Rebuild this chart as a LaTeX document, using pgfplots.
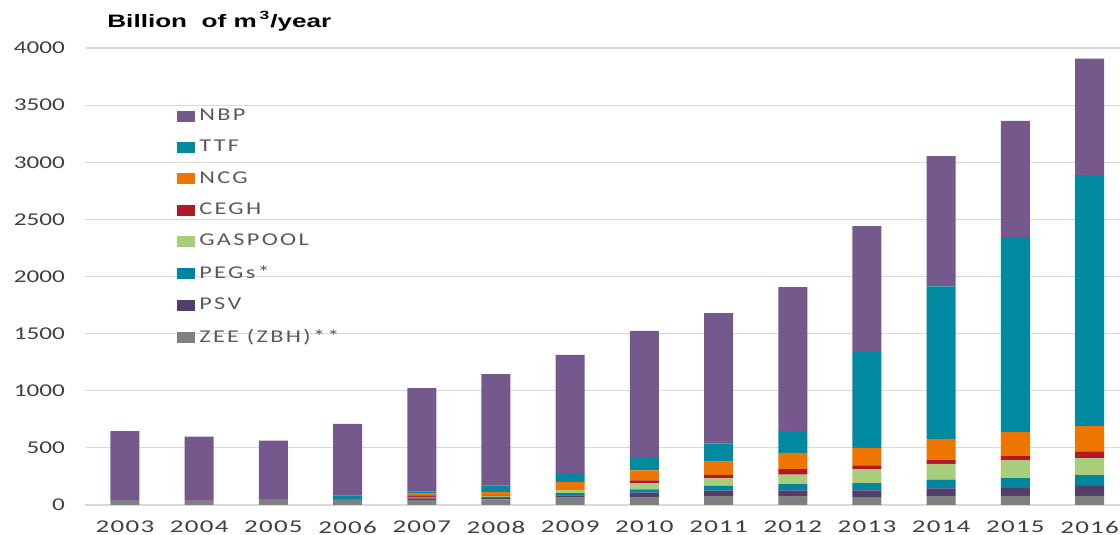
\documentclass[border=0pt]{standalone}
\usepackage{fontspec}
\setmainfont{Carlito}
\newfontfamily\arialf{Liberation Sans}[FakeStretch=1.45]
\newfontfamily\ytf{Carlito}[FakeStretch=1.4]
\newfontfamily\xtf{Carlito}[FakeStretch=1.5, LetterSpace=7]
\newfontfamily\legf{Carlito}[FakeStretch=1.35, LetterSpace=13]
\usepackage{pgfplots}
\usepackage{pgfplotstable}
\pgfplotsset{compat=1.18}
\definecolor{nbp}{RGB}{117,88,140}
\definecolor{ttf}{RGB}{0,137,160}
\definecolor{ncg}{RGB}{238,118,0}
\definecolor{cegh}{RGB}{176,26,40}
\definecolor{gaspool}{RGB}{168,206,124}
\definecolor{pegs}{RGB}{0,133,158}
\definecolor{psv}{RGB}{82,62,104}
\definecolor{zee}{RGB}{128,128,128}
\definecolor{txt}{RGB}{64,64,64}
\definecolor{legtxt}{RGB}{89,89,89}

\pgfplotstableread{
x  ZEE PSV PEG GAS CEGH NCG TTF  NBP
0  42  0   0   0   0    0   0    605
1  42  0   0   0   0    0   0    556
2  42  0   0   0   5    0   0    516
3  45  5   10  0   0    0   25   624
4  45  12  10  5   12   15  20   903
5  50  10  10  10  5    30  55   976
6  65  20  20  25  5    65  80   1033
7  65  44  27  55  25   88  109  1110
8  73  53  41  65  32   115 160  1141
9  74  53  56  82  50   141 191  1261
10 68  59  65  123 32   153 837  1104
11 74  71  76  138 38   182 1335 1140
12 79  68  88  156 41   206 1706 1019
13 79  88  94  150 59   220 2198 1020
}\gasdata

\begin{document}
\begin{tikzpicture}
\path[use as bounding box] (0,0) rectangle (560pt,267.5pt);
\begin{axis}[
    at={(42.5pt,15pt)}, anchor=south west,
    scale only axis,
    width=517.5pt, height=228.5pt,
    ybar stacked, bar width=14.5pt,
    xmin=-0.539, xmax=13.41,
    ymin=0, ymax=4000,
    ytick={0,500,...,4000},
    xtick={0,...,13},
    xticklabels={2003,2004,2005,2006,2007,2008,2009,2010,2011,2012,2013,2014,2015,2016},
    axis line style={draw=none},
    major tick length=0pt,
    ymajorgrids, grid style={draw=black!15, line width=0.6pt},
    /pgf/number format/assume math mode=true,
    /pgf/number format/1000 sep={},
    yticklabel style={font=\ytf\fontsize{9}{10}\selectfont, text=txt, xshift=-6.5pt},
    xticklabel style={font=\xtf\fontsize{9}{10}\selectfont, text=txt, yshift=-4.5pt},
    reverse legend,
    legend style={at={(0.083,0.885)}, anchor=north west, draw=none, fill=none,
        font=\legf\fontsize{9}{10}\selectfont\color{legtxt}, row sep=4.35pt,
        cells={anchor=west}},
    legend image code/.code={\fill[#1] (0pt,-2.75pt) rectangle (9pt,2.75pt);},
    every axis plot/.append style={draw=none},
]
\addplot[fill=zee] table[x=x,y=ZEE] {\gasdata};
\addlegendentry{ZEE (ZBH)**}
\addplot[fill=psv] table[x=x,y=PSV] {\gasdata};
\addlegendentry{PSV}
\addplot[fill=pegs] table[x=x,y=PEG] {\gasdata};
\addlegendentry{PEGs*}
\addplot[fill=gaspool] table[x=x,y=GAS] {\gasdata};
\addlegendentry{GASPOOL}
\addplot[fill=cegh] table[x=x,y=CEGH] {\gasdata};
\addlegendentry{CEGH}
\addplot[fill=ncg] table[x=x,y=NCG] {\gasdata};
\addlegendentry{NCG}
\addplot[fill=ttf] table[x=x,y=TTF] {\gasdata};
\addlegendentry{TTF}
\addplot[fill=nbp] table[x=x,y=NBP] {\gasdata};
\addlegendentry{NBP}
\end{axis}
\node[anchor=west, inner sep=0pt, font=\arialf\bfseries\fontsize{9}{10}\selectfont] at (53.5pt,257pt) {Billion\ \ of m\,\textsuperscript{3}/year};
\end{tikzpicture}
\end{document}
